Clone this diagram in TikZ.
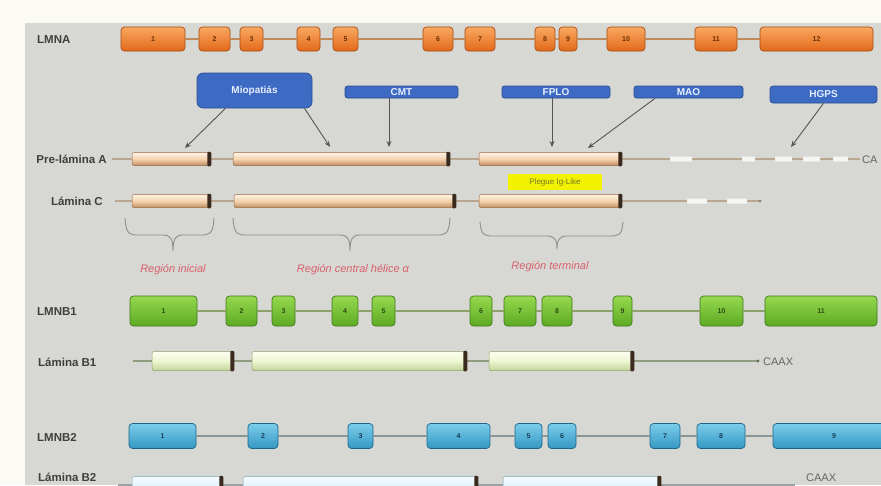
\documentclass[tikz,border=0pt]{standalone}
\usepackage{fontspec}
\setmainfont{Liberation Sans}
\usetikzlibrary{arrows.meta}
\definecolor{offw}{HTML}{FCFAF5}
\definecolor{bgg}{HTML}{D7D8D4}
\definecolor{orgT}{HTML}{F9A860}
\definecolor{orgB}{HTML}{E2691A}
\definecolor{orgD}{HTML}{A84C12}
\definecolor{orgTx}{HTML}{6B2E05}
\definecolor{blueF}{HTML}{3D6BC4}
\definecolor{blueD}{HTML}{2C4E94}
\definecolor{blueTx}{HTML}{E6EEFF}
\definecolor{grnT}{HTML}{95D94F}
\definecolor{grnB}{HTML}{5DAA22}
\definecolor{grnD}{HTML}{3E7A18}
\definecolor{grnTx}{HTML}{2C4D10}
\definecolor{cyT}{HTML}{7BCDEB}
\definecolor{cyB}{HTML}{3497C2}
\definecolor{cyD}{HTML}{1E6688}
\definecolor{cyTx}{HTML}{163F55}
\definecolor{tanT}{HTML}{FFF3E4}
\definecolor{tanM}{HTML}{F4D3AE}
\definecolor{tanB}{HTML}{BF8D63}
\definecolor{tanD}{HTML}{9A6A45}
\definecolor{lgT}{HTML}{FDFFF2}
\definecolor{lgM}{HTML}{EEF6D2}
\definecolor{lgB}{HTML}{C3D59A}
\definecolor{lgD}{HTML}{8FA36A}
\definecolor{lbT}{HTML}{F6FCFF}
\definecolor{lbM}{HTML}{E2F2F8}
\definecolor{lbB}{HTML}{B3D3E0}
\definecolor{lbD}{HTML}{7FA5B5}
\definecolor{capc}{HTML}{3A2A1E}
\definecolor{intA}{HTML}{C08A5A}
\definecolor{intB}{HTML}{8DA26A}
\definecolor{intC}{HTML}{8A9696}
\definecolor{plA}{HTML}{B9A68E}
\definecolor{plB}{HTML}{8F9C80}
\definecolor{plC}{HTML}{9AA3A3}
\definecolor{regc}{HTML}{D9606B}
\definecolor{brc}{HTML}{8E8E8C}
\definecolor{arrc}{HTML}{555555}
\definecolor{labc}{HTML}{3F3F3F}
\definecolor{ylw}{HTML}{F2F200}
\tikzset{
  lab/.style={font=\bfseries\fontsize{11.5}{12}\selectfont, text=labc, inner sep=0},
  exbase/.style={rounded corners=3.5, line width=0.7, inner sep=0, font=\bfseries\fontsize{7}{7}\selectfont},
  exonA/.style={exbase, draw=orgD, top color=orgT, bottom color=orgB, text=orgTx, minimum height=24},
  exonB/.style={exbase, draw=grnD, top color=grnT, bottom color=grnB, text=grnTx, minimum height=30},
  exonC/.style={exbase, draw=cyD, top color=cyT, bottom color=cyB, text=cyTx, minimum height=25},
  intronA/.style={draw=intA, line width=2},
  intronB/.style={draw=intB, line width=2},
  intronC/.style={draw=intC, line width=2},
  dis/.style={draw=blueD, fill=blueF, line width=0.7, text=blueTx, inner sep=0,
    font=\bfseries\fontsize{10}{10}\selectfont},
  arr/.style={draw=arrc, line width=0.9, -{Stealth[length=6pt,width=5pt]}},
  segbase/.style={rounded corners=2, line width=0.5, inner sep=0},
  segA/.style={segbase, draw=tanD, top color=tanT, bottom color=tanB, middle color=tanM, minimum height=13},
  segB/.style={segbase, draw=lgD, top color=lgT, bottom color=lgB, middle color=lgM, minimum height=19},
  segC/.style={segbase, draw=lbD, top color=lbT, bottom color=lbB, middle color=lbM, minimum height=19},
  plineA/.style={draw=plA, line width=2.2},
  plineB/.style={draw=plB, line width=1.6},
  plineC/.style={draw=plC, line width=1.6},
  dashw/.style={fill=white!92!gray, rounded corners=1},
  brace/.style={draw=brc, line width=0.9},
  reg/.style={font=\itshape\fontsize{11}{12}\selectfont, text=regc, inner sep=0},
  caax/.style={font=\fontsize{11}{12}\selectfont, text=labc!80, inner sep=0},
}
\newcommand\mycap[1]{\fill[capc, rounded corners=1.2] ([xshift=-3pt,yshift=0.5pt]#1.north east) rectangle ([xshift=1pt,yshift=-0.5pt]#1.south east);}
\newcommand\mybrace[6]{\draw[brace] (#1,#4) .. controls (#1+1,#5) and (#1+5,#5) .. (#1+14,#5) -- (#3-10,#5) .. controls (#3-3,#5) and (#3,#5+3) .. (#3,#6) .. controls (#3,#5+3) and (#3+3,#5) .. (#3+10,#5) -- (#2-14,#5) .. controls (#2-5,#5) and (#2-1,#5) .. (#2,#4);}
\begin{document}
\begin{tikzpicture}[x=1pt,y=-1pt]
\useasboundingbox (0,0) rectangle (881,485);
\fill[offw] (0,0) rectangle (881,485);
\fill[bgg] (25,23) rectangle (881,485);

% ---------- LMNA ----------
\node[lab, anchor=west] (lLMNA) at (37,40) {LMNA};
\foreach \i/\a/\b in {1/121/185,2/199/230,3/240/263,4/297/320,5/333/358,6/423/453,7/465/495,8/535/555,9/559/577,10/607/645,11/695/737,12/760/873}
  \node[exonA, minimum width={(\b-\a)*1pt}] (a\i) at ({(\a+\b)/2},39) {\i};
\foreach \i in {1,...,11}{\pgfmathtruncatemacro\j{\i+1}\draw[intronA] (a\i.east) -- (a\j.west);}

% ---------- disease boxes ----------
\node[dis, rounded corners=6, minimum width=115, minimum height=35] (mio) at (254.5,90.5) {Miopatiás};
\node[dis, rounded corners=2.5, minimum width=113, minimum height=12] (cmt) at (401.5,92) {CMT};
\node[dis, rounded corners=2.5, minimum width=108, minimum height=12] (fplo) at (556,92) {FPLO};
\node[dis, rounded corners=2.5, minimum width=109, minimum height=12] (mao) at (688.5,92) {MAO};
\node[dis, rounded corners=3, minimum width=107, minimum height=17] (hgps) at (823.5,94.5) {HGPS};

\coordinate (t1) at (185,148);
\coordinate (t2) at (330,147);
\coordinate (t3) at (389,147);
\coordinate (t4) at (552,147);
\coordinate (t5) at (588,148);
\coordinate (t6) at (791,147);
\draw[arr] ([xshift=-29pt]mio.south) -- (t1);
\draw[arr] ([xshift=50pt]mio.south) -- (t2);
\draw[arr] ([xshift=-12.5pt]cmt.south) -- (t3);
\draw[arr] ([xshift=-4pt]fplo.south) -- (t4);
\draw[arr] ([xshift=-33.5pt]mao.south) -- (t5);
\draw[arr] (hgps.south) -- (t6);

% ---------- Pre-lamina A ----------
\node[lab, anchor=east] (lPA) at (107,159) {Pre-lámina A};
\coordinate (pa0) at (112,159);
\coordinate (paE) at (860,159);
\draw[plineA] (pa0) -- (paE);
\foreach \x/\w in {670/22,742/13,775/17,803/17,833/15}
  \fill[dashw] (\x,156.5) rectangle (\x+\w,161.5);
\foreach \i/\a/\b in {1/132/210,2/233/449,3/479/621}{
  \node[segA, minimum width={(\b-\a)*1pt}] (pa\i) at ({(\a+\b)/2},159) {};
  \mycap{pa\i}}
\node[caax, anchor=west] (paCA) at (862,160) {CA};

% ---------- Lamina C ----------
\node[lab, anchor=east] (lLC) at (103,201) {Lámina C};
\coordinate (lc0) at (115,201);
\coordinate (lcE) at (760,201);
\draw[plineA] (lc0) -- (lcE);
\fill[plA!80!black] (lcE) circle (1.6);
\foreach \x/\w in {687/20,727/20}
  \fill[dashw] (\x,198.5) rectangle (\x+\w,203.5);
\foreach \i/\a/\b in {1/132/210,2/234/455,3/479/621}{
  \node[segA, minimum width={(\b-\a)*1pt}] (lc\i) at ({(\a+\b)/2},201) {};
  \mycap{lc\i}}

% Ig-like fold label
\node[fill=ylw, minimum width=94, minimum height=16, inner sep=0, text=labc!70!ylw,
  font=\fontsize{8}{8}\selectfont] (ig) at (555,182) {Plegue Ig-Like};

% ---------- braces and regions ----------
\mybrace{125}{214}{173}{218}{235}{251}
\mybrace{233}{450}{350}{218}{235}{251}
\mybrace{480}{623}{557}{222}{236}{249}
\node[reg] (r1) at (173,270) {Región inicial};
\node[reg] (r2) at (353,270) {Región central hélice α};
\node[reg] (r3) at (550,267) {Región terminal};

% ---------- LMNB1 ----------
\node[lab, anchor=west] (lB1) at (37,312) {LMNB1};
\foreach \i/\a/\b in {1/130/197,2/226/257,3/272/295,4/332/358,5/372/395,6/470/492,7/504/536,8/542/572,9/613/632,10/700/743,11/765/877}
  \node[exonB, minimum width={(\b-\a)*1pt}] (b\i) at ({(\a+\b)/2},311) {\i};
\foreach \i in {1,...,10}{\pgfmathtruncatemacro\j{\i+1}\draw[intronB] (b\i.east) -- (b\j.west);}

% ---------- Lamina B1 ----------
\node[lab, anchor=west] (lLB1) at (38,362) {Lámina B1};
\coordinate (lb0) at (133,361);
\coordinate (lbE) at (758,361);
\draw[plineB] (lb0) -- (lbE);
\fill[plB!70!black] (lbE) circle (1.6);
\foreach \i/\a/\b in {1/152/233,2/252/466,3/489/633}{
  \node[segB, minimum width={(\b-\a)*1pt}] (lb\i) at ({(\a+\b)/2},361) {};
  \mycap{lb\i}}
\node[caax, anchor=west] (lbCA) at (763,362) {CAAX};

% ---------- LMNB2 ----------
\node[lab, anchor=west] (lB2) at (37,437) {LMNB2};
\foreach \i/\a/\b in {1/129/196,2/248/278,3/348/373,4/427/490,5/515/542,6/548/576,7/650/680,8/697/745,9/773/895}
  \node[exonC, minimum width={(\b-\a)*1pt}] (c\i) at ({(\a+\b)/2},436) {\i};
\foreach \i in {1,...,8}{\pgfmathtruncatemacro\j{\i+1}\draw[intronC] (c\i.east) -- (c\j.west);}

% ---------- Lamina B2 ----------
\node[lab, anchor=west] (lLB2) at (38,477.5) {Lámina B2};
\coordinate (lm0) at (118,485);
\coordinate (lmE) at (795,485);
\draw[plineC] (lm0) -- (lmE);
\foreach \i/\a/\b in {1/132/222,2/243/477,3/503/660}{
  \node[segC, minimum width={(\b-\a)*1pt}] (lm\i) at ({(\a+\b)/2},486) {};
  \mycap{lm\i}}
\node[caax, anchor=west] (lmCA) at (806,478) {CAAX};
\end{tikzpicture}
\end{document}
